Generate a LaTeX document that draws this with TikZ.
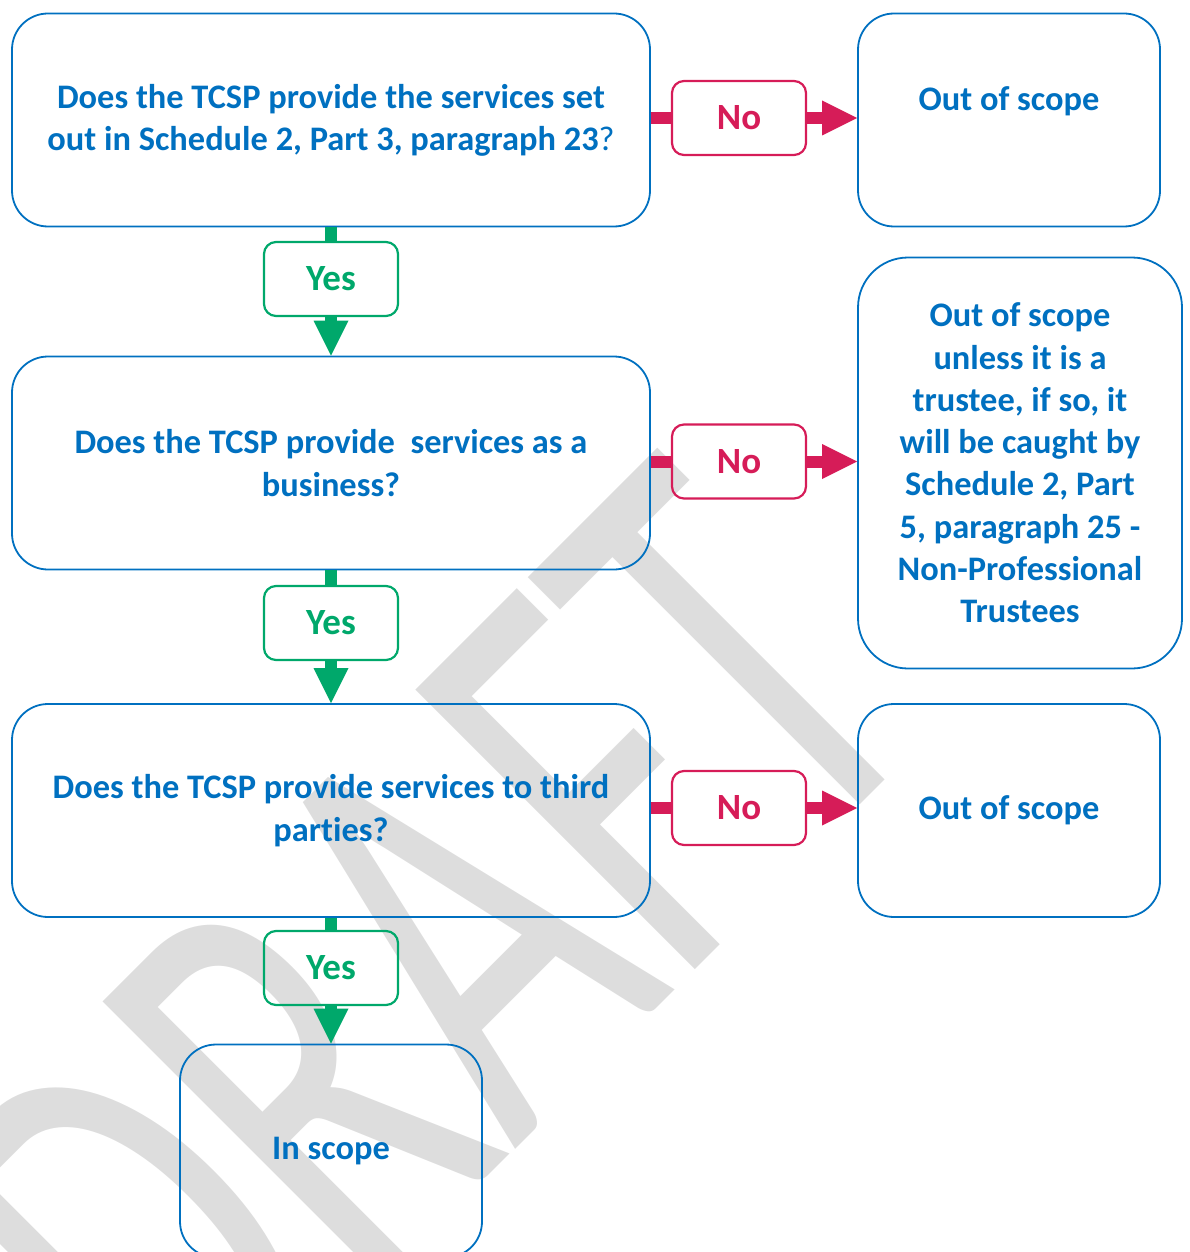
\documentclass[tikz,border=0pt]{standalone}
\usepackage{fontspec}
\setmainfont{Carlito}[Ligatures={NoCommon}]
\usetikzlibrary{arrows.meta}
\definecolor{qblue}{RGB}{0,112,192}
\definecolor{nored}{RGB}{214,28,88}
\definecolor{yesgreen}{RGB}{0,168,107}
\definecolor{wmgray}{RGB}{221,221,221}
\tikzset{
  qbox/.style={draw=qblue, line width=1.8pt, rounded corners=36pt, text=qblue,
    font=\bfseries\fontsize{34.4}{42.3}\selectfont, align=center, inner sep=0pt},
  nobox/.style={draw=nored, line width=2.2pt, rounded corners=12pt, text=nored,
    font=\bfseries\fontsize{37}{40}\selectfont, minimum width=134pt, minimum height=74pt, inner sep=0pt},
  yesbox/.style={draw=yesgreen, line width=2.2pt, rounded corners=12pt, text=yesgreen,
    font=\bfseries\fontsize{37}{40}\selectfont, minimum width=134pt, minimum height=74pt, inner sep=0pt},
  redline/.style={draw=nored, line width=12pt},
  greenline/.style={draw=yesgreen, line width=12pt},
  bigtip/.style={-{Triangle[width=35pt,length=35pt,line width=0pt]}},
  watermark/.style={text=wmgray, rotate=45, yscale=1.56, inner sep=0pt, font=\fontsize{395}{395}\selectfont}
}
\begin{document}
\begin{tikzpicture}[x=1pt,y=-1pt]
\useasboundingbox (0,0) rectangle (1190,1252);
\node[watermark] (wm) at (426,959) {DRAFT};

\node[qbox, minimum width=638pt, minimum height=213pt] (q1) at (331,120)
  {Does the TCSP provide the services set\\out in Schedule 2, Part 3, paragraph 23{\mdseries ?}};
\node[qbox, minimum width=302pt, minimum height=213pt] (o1) at (1009,120) {Out of scope\\\mbox{}};
\node[nobox] (n1) at (739,118) {No};
\node[yesbox] (y1) at (331,279) {Yes};

\node[qbox, minimum width=638pt, minimum height=213pt] (q2) at (331,463)
  {Does the TCSP provide\ \ services as a\\business?};
\node[qbox, rounded corners=50pt, minimum width=324pt, minimum height=411pt] (o2) at (1020,463)
  {Out of scope\\unless it is a\\trustee, if so, it\\will be caught by\\Schedule 2, Part\\5, paragraph 25 -\\Non-Professional\\Trustees};
\node[nobox] (n2) at (739,461.5) {No};
\node[yesbox] (y2) at (331,623) {Yes};

\node[qbox, minimum width=638pt, minimum height=213pt] (q3) at (331,810.5)
  {Does the TCSP provide services to third\\parties?};
\node[qbox, minimum width=302pt, minimum height=213pt] (o3) at (1009,810.5) {Out of scope};
\node[nobox] (n3) at (739,808) {No};
\node[yesbox] (y3) at (331,968) {Yes};

\node[qbox, minimum width=302pt, minimum height=213pt] (s) at (331,1151) {In scope};

% red connectors
\draw[redline] (q1.east |- n1.west) -- (n1.west);
\draw[redline, bigtip] (n1.east) -- (n1.east -| o1.west);
\draw[redline] (q2.east |- n2.west) -- (n2.west);
\draw[redline, bigtip] (n2.east) -- (n2.east -| o2.west);
\draw[redline] (q3.east |- n3.west) -- (n3.west);
\draw[redline, bigtip] (n3.east) -- (n3.east -| o3.west);
% green connectors
\draw[greenline] (q1.south) -- (y1.north);
\draw[greenline, bigtip] (y1.south) -- (q2.north);
\draw[greenline] (q2.south) -- (y2.north);
\draw[greenline, bigtip] (y2.south) -- (q3.north);
\draw[greenline] (q3.south) -- (y3.north);
\draw[greenline, bigtip] (y3.south) -- (s.north);
\end{tikzpicture}
\end{document}
